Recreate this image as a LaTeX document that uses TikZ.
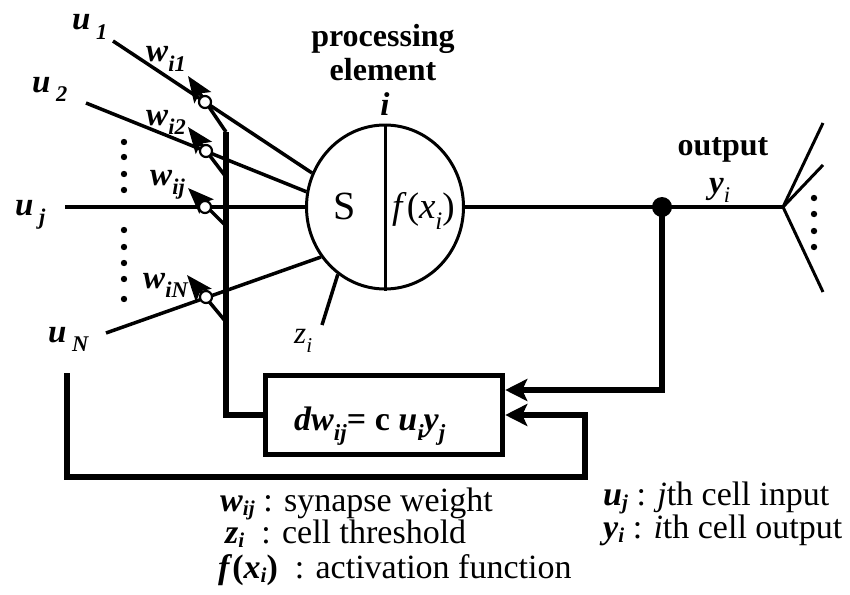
\documentclass[tikz,border=0pt]{standalone}
\usepackage{fontspec}
\setmainfont{Liberation Serif}
\usetikzlibrary{arrows.meta,shapes.geometric}
\newcommand{\bi}[1]{\textbf{\textit{#1}}}
\newcommand{\sbs}[1]{\raisebox{-0.3em}{\scalebox{0.68}{#1}}}
\newcommand{\lsb}[1]{\raisebox{-0.12em}{\scalebox{0.62}{#1}}}
\newcommand{\fsz}[1]{\fontsize{#1}{#1}\selectfont}
\begin{document}
\begin{tikzpicture}[x=1pt,y=-1pt,
  wire/.style={line width=3.5pt},
  bus/.style={line width=6pt},
  wtip/.style={-{Stealth[length=26pt,width=20pt,inset=5pt]}},
  btip/.style={-{Stealth[length=22pt,width=22pt,inset=5pt]}},
  syn/.style={circle,draw,fill=white,line width=2.2pt,minimum size=12pt,inner sep=0pt},
  lbl/.style={inner sep=0pt,font=\fsz{33}},
  leg/.style={inner sep=0pt,font=\fsz{34},anchor=base west,text height=23pt,text depth=7.5pt},
  dotm/.style={circle,fill=black,minimum size=6pt,inner sep=0pt}
]
\useasboundingbox (0,0) rectangle (850,594);

% processing element
\node[ellipse,draw,line width=3pt,minimum width=157pt,minimum height=164pt,inner sep=0pt] (pe) at (385,207) {};
\draw[line width=3pt] (pe.north) -- (pe.south);
\node[lbl,font=\fsz{40},anchor=base] (S) at (345,219) {S};
\node[lbl,font=\fsz{37},anchor=base west] (fx) at (392,218) {\textit{f}(\textit{x}\sbs{\textit{i}})};
\node[lbl,font=\fsz{32},anchor=base] (pt1) at (383,47) {\textbf{processing}};
\node[lbl,font=\fsz{32},anchor=base] (pt2) at (383,80) {\textbf{element}};
\node[lbl,anchor=base] (pi) at (385,115) {\bi{i}};

% inputs
\coordinate (s1) at (113,41);
\coordinate (s2) at (86,103);
\coordinate (sj) at (65,207);
\coordinate (sN) at (106,333);
\draw[wire] (s1) -- (pe.155);
\draw[wire] (s2) -- (pe.169);
\draw[wire] (sj) -- (pe.west);
\draw[wire] (sN) -- (pe.218);

% threshold
\coordinate (zt) at (322,325);
\draw[wire] (pe.235) -- (zt);
\node[lbl,font=\fsz{31},anchor=base west] (zl) at (294,343) {\textit{z}\sbs{\textit{i}}};

% learning box
\node[draw,line width=5.5pt,minimum width=237pt,minimum height=79pt,inner sep=0pt] (box) at (384,415) {};
\node[lbl,font=\fsz{34},anchor=base west] (boxt) at (294,430) {\bi{dw}\sbs{\bi{ij}}\textbf{= c} \bi{u}\sbs{\bi{i}}\bi{y}\sbs{\bi{j}}};

% bus and weight arrows
\coordinate (a1) at (226,132);
\coordinate (a2) at (226,177);
\coordinate (aj) at (226,226);
\coordinate (aN) at (226,322);
\coordinate (t1) at (188,76);
\coordinate (t2) at (188,127);
\coordinate (tj) at (188,188);
\coordinate (tN) at (187,275);
\draw[bus] (a1) |- (box.west);
\draw[wire,wtip] (a1) -- (t1);
\draw[wire,wtip] (a2) -- (t2);
\draw[wire,wtip] (aj) -- (tj);
\draw[wire,wtip] (aN) -- (tN);
\node[syn] (c1) at (205,102) {};
\node[syn] (c2) at (206,151) {};
\node[syn] (cj) at (205,207) {};
\node[syn] (cN) at (206,297) {};

% input labels
\node[lbl,anchor=base west] (u1) at (72,30) {\bi{u}\,\sbs{\bi{1}}};
\node[lbl,anchor=base west] (u2) at (32,92) {\bi{u}\,\sbs{\bi{2}}};
\node[lbl,anchor=base west] (uj) at (15,215) {\bi{u}\,\sbs{\bi{j}}};
\node[lbl,anchor=base west] (uN) at (48,342) {\bi{u}\,\sbs{\bi{N}}};
\node[lbl,anchor=base west] (w1) at (146,62) {\bi{w}\sbs{\bi{i1}}};
\node[lbl,anchor=base west] (w2) at (146,125) {\bi{w}\sbs{\bi{i2}}};
\node[lbl,anchor=base west] (wj) at (150,185) {\bi{w}\sbs{\bi{ij}}};
\node[lbl,anchor=base west] (wN) at (143,288) {\bi{w}\sbs{\bi{iN}}};

% dots
\foreach \yy in {142,157,174,190,230,247,263,279,299}
  \fill (124,\yy) circle (3.2pt);
\foreach \yy in {198,214,231,247}
  \fill (814,\yy) circle (3.2pt);

% output
\node[circle,fill=black,minimum size=20pt,inner sep=0pt] (od) at (662,207) {};
\coordinate (fan) at (783,207);
\coordinate (f1) at (823,123);
\coordinate (f2) at (823,165);
\coordinate (f3) at (823,292);
\draw[wire] (pe.east) -- (fan);
\draw[line width=3pt] (f1) -- (fan) -- (f3);
\draw[line width=3pt] (f2) -- (fan);
\node[lbl,font=\fsz{32},anchor=base] (ot) at (723,155) {\textbf{output}};
\node[lbl,anchor=base west] (oy) at (709,193) {\bi{y}\sbs{\textit{i}}};

% feedback
\draw[bus,btip] (od.center) |- ([yshift=25pt]box.east);
\coordinate (fb) at (67,373);
\draw[bus,btip] (fb) |- (585,477) |- (box.east);

% legend
\node[leg] (lw) at (220,511) {\bi{w}\lsb{\bi{ij}} : synapse weight};
\node[leg] (lz) at (225,543) {\bi{z}\lsb{\bi{i}}\ \ : cell threshold};
\node[leg] (lf) at (218,578) {\bi{f}\textbf{(}\bi{x}\lsb{\bi{i}}\textbf{)}\ \ : activation function};
\node[leg] (lu) at (603,505) {\bi{u}\lsb{\bi{j}} : \textit{j}th cell input};
\node[leg] (ly) at (603,538) {\bi{y}\lsb{\bi{i}} : \textit{i}th cell output};
\end{tikzpicture}
\end{document}
